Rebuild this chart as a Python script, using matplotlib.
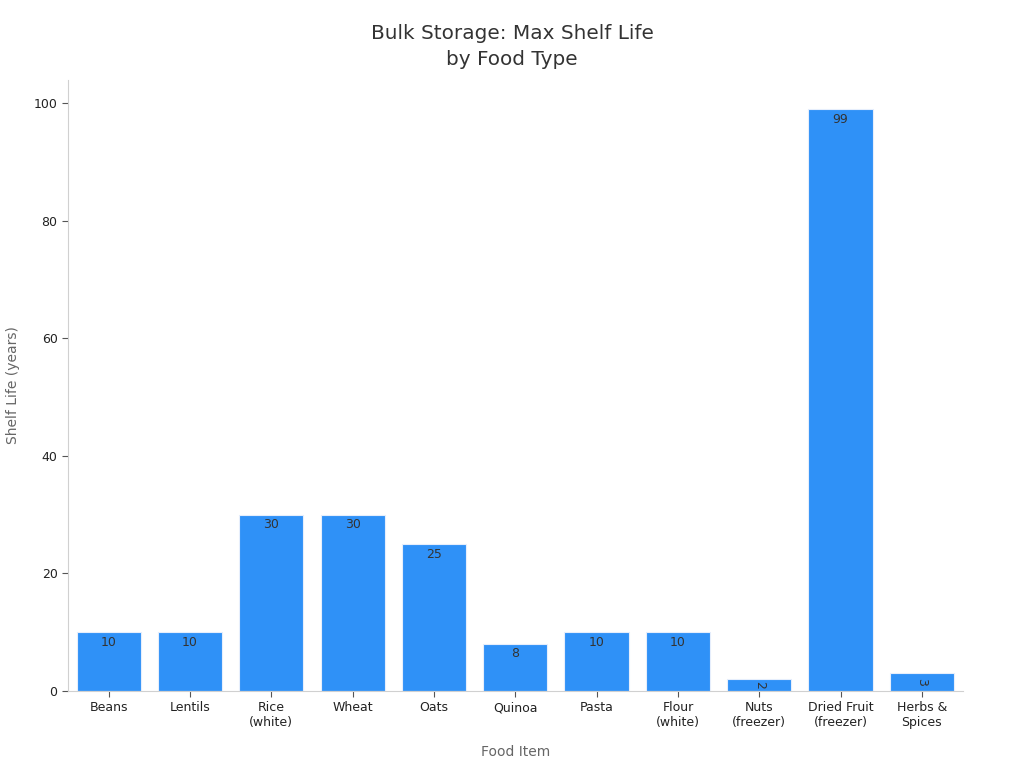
import matplotlib
matplotlib.use("Agg")
import matplotlib.pyplot as plt

# Data
foods = ["Beans", "Lentils", "Rice\n(white)", "Wheat", "Oats", "Quinoa", "Pasta",
         "Flour\n(white)", "Nuts\n(freezer)", "Dried Fruit\n(freezer)", "Herbs &\nSpices"]
shelf_life = [10, 10, 30, 30, 25, 8, 10, 10, 2, 99, 3]

bar_color = "#2F91F7"
spine_color = "#d0d0d0"

fig = plt.figure(figsize=(10.24, 7.68), dpi=100)
ax = fig.add_axes([0.0664, 0.1003, 0.8736, 0.7957])

x = list(range(len(foods)))
bars = ax.bar(x, shelf_life, width=0.79, color=bar_color, edgecolor="#e6eefc", linewidth=0.8)

# value labels just inside the top of each bar (rotated for the very short ones)
for bar, v in zip(bars, shelf_life):
    xc = bar.get_x() + bar.get_width() / 2
    if v < 5:
        t = ax.text(xc, v / 2, str(v), ha="center", va="center", fontsize=9,
                    color="#333333", rotation=-90)
    else:
        t = ax.text(xc, v - 0.6, str(v), ha="center", va="top", fontsize=9,
                    color="#333333")
    t.set_clip_path(bar)

ax.set_xlim(-0.5, 10.5)
ax.set_ylim(0, 104)
ax.set_yticks([0, 20, 40, 60, 80, 100])
ax.set_xticks(x)
ax.set_xticklabels(foods, fontsize=9, color="#222222")
ax.tick_params(axis="y", labelsize=9, labelcolor="#222222", color="#555555", length=4)
ax.tick_params(axis="x", color="#555555", length=4)

for side in ["top", "right"]:
    ax.spines[side].set_visible(False)
for side in ["left", "bottom"]:
    ax.spines[side].set_color(spine_color)

ax.set_xlabel("Food Item", fontsize=10, color="#666666", labelpad=11)
ax.set_ylabel("Shelf Life (years)", fontsize=10, color="#666666", labelpad=10)

fig.text(0.5, 0.957, "Bulk Storage: Max Shelf Life", ha="center", va="center",
         fontsize=14.4, color="#333333")
fig.text(0.5, 0.923, "by Food Type", ha="center", va="center",
         fontsize=14.4, color="#333333")

fig.savefig("out.png", dpi=100, facecolor="white")
